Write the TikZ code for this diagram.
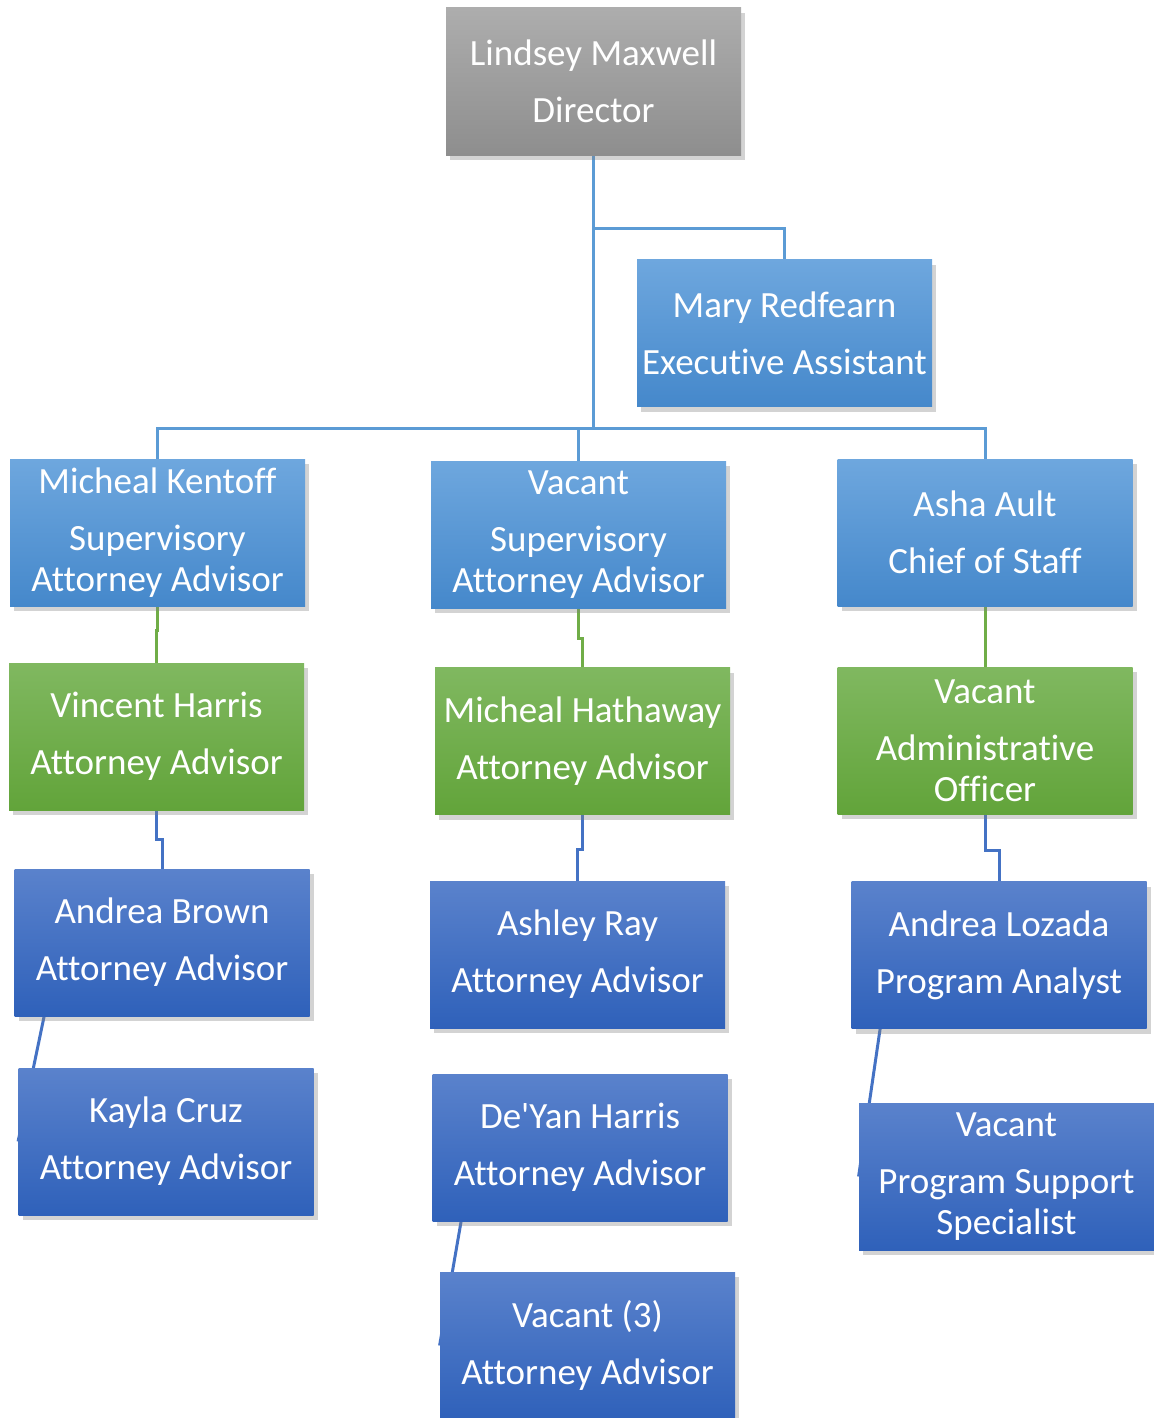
\documentclass[tikz,border=0pt]{standalone}
\usepackage{fontspec}
\setmainfont{Carlito}[RawFeature={-liga;-clig;-calt;-dlig}]
\usetikzlibrary{shadows,backgrounds}

\definecolor{greytop}{HTML}{ADADAD}
\definecolor{greybot}{HTML}{8E8E8E}
\definecolor{skytop}{HTML}{6EA7DE}
\definecolor{skybot}{HTML}{4588CB}
\definecolor{leaftop}{HTML}{80B860}
\definecolor{leafbot}{HTML}{62A43A}
\definecolor{navytop}{HTML}{5A82CC}
\definecolor{navybot}{HTML}{2F61BA}
\definecolor{skyline}{HTML}{5B9BD5}
\definecolor{leafline}{HTML}{70AD47}
\definecolor{navyline}{HTML}{4472C4}

\begin{document}
\begin{tikzpicture}[x=0.5pt,y=-0.5pt]
  % some styles
  \tikzset{
    card/.style={
      rectangle,
      minimum width=147.5pt,
      minimum height=73.5pt,
      inner sep=0pt,
      text=white,
      align=center,
      font=\fontsize{18.5}{20.5}\selectfont,
      drop shadow={shadow xshift=2pt,shadow yshift=-2.5pt,opacity=0.35}
    },
    grey/.style={card,top color=greytop,bottom color=greybot},
    sky/.style={card,top color=skytop,bottom color=skybot},
    leaf/.style={card,top color=leaftop,bottom color=leafbot},
    navy/.style={card,top color=navytop,bottom color=navybot},
    wire/.style={line width=1.5pt}
  }

\useasboundingbox (0,0) rectangle (1154,1418);

% top
\node[grey] (dir) at (593.5,81.5) {Lindsey Maxwell\\[8pt]Director};
\node[sky] (mary) at (784.5,333) {Mary Redfearn\\[8pt]Executive Assistant};

% first row
\node[sky] (kent) at (157.5,532.5) {Micheal Kentoff\\[8pt]Supervisory\\Attorney Advisor};
\node[sky] (vsup) at (578.5,534.5) {Vacant\\[8pt]Supervisory\\Attorney Advisor};
\node[sky] (asha) at (985,532.5) {Asha Ault\\[8pt]Chief of Staff};

% second row
\node[leaf] (vince) at (156.5,736.5) {Vincent Harris\\[8pt]Attorney Advisor};
\node[leaf] (hath) at (582.5,741) {Micheal Hathaway\\[8pt]Attorney Advisor};
\node[leaf] (vadm) at (985,740.5) {Vacant\\[8pt]Administrative\\Officer};

% third row
\node[navy] (abrown) at (162,942.5) {Andrea Brown\\[8pt]Attorney Advisor};
\node[navy] (ashley) at (577.5,954.5) {Ashley Ray\\[8pt]Attorney Advisor};
\node[navy] (lozada) at (999,955) {Andrea Lozada\\[8pt]Program Analyst};

% lower rows
\node[navy] (kayla) at (166,1141.5) {Kayla Cruz\\[8pt]Attorney Advisor};
\node[navy] (deyan) at (580,1147.5) {De\textquotesingle Yan Harris\\[8pt]Attorney Advisor};
\node[navy] (vac3) at (587.5,1345.5) {Vacant (3)\\[8pt]Attorney Advisor};
\node[navy] (vpss) at (1006.5,1176.5) {Vacant\\[8pt]Program Support\\Specialist};

\coordinate (hub) at (593.5,427);

\begin{scope}[on background layer]
  \draw[wire,skyline] (dir.south) -- (hub);
  \draw[wire,skyline] (dir.south) -- ++(0,73) -| (mary.north);
  \draw[wire,skyline] (kent.north) -- ++(0,-30) -| (asha.north);
  \draw[wire,skyline] (vsup.north) -- (vsup.north |- hub);

  \draw[wire,leafline] (kent.south) -- ++(0,24) -| (vince.north);
  \draw[wire,leafline] (vsup.south) -- ++(0,30) -| (hath.north);
  \draw[wire,leafline] (asha.south) -- (vadm.north);

  \draw[wire,navyline] (vince.south) -- ++(0,29) -| (abrown.north);
  \draw[wire,navyline] (hath.south) -- ++(0,35) -| (ashley.north);
  \draw[wire,navyline] (vadm.south) -- ++(0,36) -| (lozada.north);

  \draw[wire,navyline] ([xshift=15pt]abrown.south west) -- (kayla.west);
  \draw[wire,navyline] ([xshift=14.5pt]deyan.south west) -- (vac3.west);
  \draw[wire,navyline] ([xshift=14.5pt]lozada.south west) -- (vpss.west);
\end{scope}

\end{tikzpicture}
\end{document}
